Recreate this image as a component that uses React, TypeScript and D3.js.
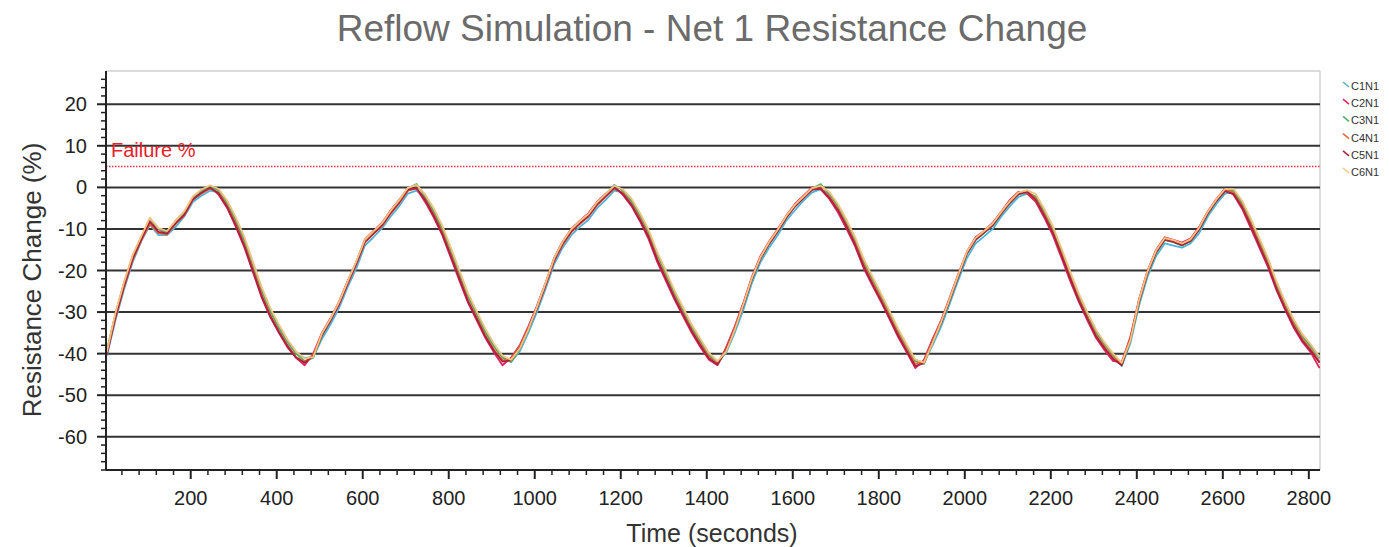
import React from "react";
import * as d3 from "d3";

// Sample times (seconds), every 20 s
const times: number[] = d3.range(5, 2826, 20);

const seriesNames = ["C1N1", "C2N1", "C3N1", "C4N1", "C5N1", "C6N1"];
const seriesColors = ["#4fb3d9", "#e0245a", "#4caf6a", "#e8623a", "#a8233e", "#f5c27e"];

const c1n1 = [
  -40.5, -32, -24.5, -18, -13, -9, -11.5, -11.5, -9.5, -7,
  -3.5, -2, -0.8, -1.2, -4.2, -8, -12.8, -18.5, -24.5, -29.5,
  -33.8, -37, -40, -41, -40.8, -36.5, -33, -29, -24, -19.5,
  -14, -12, -9.8, -7, -4.5, -1.5, -0.8, -2.3, -5.8, -10,
  -15, -20.5, -26, -30.2, -34.5, -38, -40.8, -42, -39.5, -35,
  -30, -24.5, -18.5, -14.5, -11.5, -9.5, -7.8, -5, -3, -0.8,
  -1.2, -3.2, -6.8, -10.6, -16, -20.5, -25.3, -29.5, -33.5, -37,
  -40.2, -42, -39.8, -35, -29.5, -23, -18, -14.5, -11.5, -8,
  -5.5, -3.2, -1.2, -0.5, -1.5, -4.3, -8.2, -12.5, -17.5, -21.8,
  -26, -30.2, -34.5, -38.2, -41.5, -42.2, -38, -33.5, -28, -22.3,
  -17, -13.5, -11.8, -10, -7, -4.5, -2.3, -1.5, -2.5, -5.8,
  -10, -15.2, -20.6, -26, -30.5, -34.7, -37.8, -40.3, -43, -37.5,
  -28.5, -21.5, -16.5, -13.5, -14, -14.5, -13.5, -11, -7, -4,
  -1.5, -1.2, -3.8, -8, -12.7, -17.5, -23.2, -28, -32.2, -35.8,
  -38.3, -41.2,
];
const c2n1 = [
  -39.5, -30.5, -23, -16.5, -12, -8.5, -10, -11.2, -8, -6,
  -2.5, -0.8, 0.3, -1.8, -5, -9.5, -14.5, -20.5, -26.5, -31.2,
  -35, -38.5, -41, -42.8, -40, -35, -31.5, -27.5, -22.5, -18,
  -12.5, -10.5, -8.5, -5.5, -3, -0.2, -0.3, -3.5, -7.2, -11.5,
  -17, -22.5, -27.8, -32, -36.2, -39.7, -42.8, -41, -38, -33.5,
  -28.5, -23, -17, -13, -10, -8, -6.2, -3.5, -1.5, 0.2,
  -1.8, -4.5, -8.2, -12.5, -18, -22.5, -27, -31, -35, -38.4,
  -41.5, -42.8, -38.5, -33.5, -27.8, -21.5, -16.5, -13, -10, -6.8,
  -4, -2, 0, -0.5, -2.8, -6, -10, -14.2, -19.5, -23.6,
  -27.5, -31.7, -36, -39.7, -43.5, -41.5, -36.5, -32, -26.5, -20.8,
  -15.5, -12, -10.5, -8.5, -5.8, -3, -1, -1.5, -3.5, -7.3,
  -11.6, -17, -22.5, -27.5, -32, -36.2, -39.2, -41.8, -42, -36,
  -27, -20, -15, -12, -12.6, -13.3, -12.3, -9.5, -5.8, -2.8,
  -0.3, -1.8, -5.2, -9.8, -14.5, -19.2, -24.8, -29.5, -33.8, -37.2,
  -39.8, -43.5,
];
const c3n1 = [
  -39.2, -30.5, -23, -16.8, -12.2, -7.5, -10, -10.8, -8.2, -6.2,
  -2.5, -1, 0.2, -0.8, -3.8, -8, -12.8, -18.8, -24.8, -29.8,
  -33.8, -37.2, -40, -41.8, -41, -35.8, -32.2, -27.8, -22.8, -18,
  -12.8, -10.8, -8.8, -5.8, -3.2, -0.2, 0.8, -2.2, -5.8, -10,
  -15.2, -20.8, -26.2, -30.5, -34.8, -38.3, -41, -42, -39, -34.2,
  -28.8, -23.2, -17.2, -13.2, -10.2, -8.2, -6.5, -3.8, -1.8, 0.6,
  -0.8, -3.3, -6.8, -10.8, -16.2, -20.8, -25.5, -29.6, -33.6, -37,
  -40.3, -42.5, -39.5, -34.2, -28.5, -22.2, -17.2, -13.7, -10.7, -7.3,
  -4.6, -2.6, -0.3, 0.8, -1.6, -4.5, -8.3, -12.6, -17.8, -22,
  -26.1, -30.3, -34.5, -38.3, -41.8, -42.5, -37.5, -32.8, -27.3, -21.5,
  -16, -12.7, -11, -9.2, -6.4, -3.8, -1.7, -1.2, -2.2, -5.8,
  -10, -15.3, -20.8, -26.1, -30.6, -34.8, -37.8, -40.4, -42.8, -37,
  -27.8, -20.8, -15.8, -12.7, -13.2, -14, -13, -10.2, -6.4, -3.4,
  -1, -0.8, -3.8, -8.1, -12.8, -17.6, -23.3, -28.1, -32.3, -35.8,
  -38.3, -41,
];
const c4n1 = [
  -39.8, -31.5, -24, -17.5, -12.8, -8.8, -11, -11.3, -8.8, -6.8,
  -3, -1.5, -0.3, -1.3, -4.5, -8.8, -13.8, -19.8, -25.8, -30.7,
  -34.6, -38, -40.8, -42, -40.3, -35.3, -31.8, -28.2, -23.3, -18.5,
  -13.3, -11.2, -9.3, -6.3, -3.8, -0.8, -0.3, -2.8, -6.5, -10.8,
  -16.2, -21.7, -27.2, -31.3, -35.6, -39, -41.6, -41.3, -38.2, -33.8,
  -29.2, -23.8, -17.8, -13.8, -10.8, -8.8, -7, -4.3, -2.3, -0.3,
  -1.3, -4, -7.6, -11.7, -17.2, -21.7, -26.3, -30.3, -34.3, -37.7,
  -40.8, -42.5, -38.8, -33.8, -28.1, -21.8, -16.8, -13.3, -10.3, -7,
  -4.3, -2.3, -0.5, -0.2, -2.2, -5.2, -9.1, -13.4, -18.6, -22.8,
  -26.8, -31, -35.2, -39, -42.5, -41.8, -36.8, -32.3, -26.8, -21,
  -15.6, -12.3, -10.6, -8.8, -6, -3.4, -1.3, -0.8, -2.8, -6.5,
  -10.8, -16.1, -21.6, -26.8, -31.3, -35.5, -38.4, -41, -42.3, -36.2,
  -27.2, -20.2, -15.2, -12.2, -12.8, -13.6, -12.6, -9.8, -6, -3,
  -0.5, -1.3, -4.5, -8.8, -13.6, -18.4, -24.1, -28.8, -33, -36.5,
  -39, -42,
];
const c5n1 = [
  -40.2, -31.2, -23.8, -17.2, -12.6, -8.2, -10.7, -11.1, -8.6, -6.6,
  -2.9, -1.3, -0.1, -1.5, -4.8, -9.2, -14.2, -20.2, -26.2, -31,
  -34.8, -38.2, -41, -42.2, -40.6, -35.6, -32.1, -28.1, -23.1, -18.4,
  -13.1, -11.1, -9.1, -6.1, -3.6, -0.6, -0.2, -3, -6.8, -11.2,
  -16.5, -22, -27.5, -31.6, -35.9, -39.3, -41.9, -41.6, -38.6, -34.1,
  -29.1, -23.6, -17.6, -13.6, -10.6, -8.6, -6.9, -4.1, -2.1, -0.1,
  -1.6, -4.2, -7.9, -12, -17.5, -22, -26.6, -30.6, -34.6, -38,
  -41.2, -42.6, -39.1, -34.1, -28.4, -22.1, -17.1, -13.6, -10.6, -7.3,
  -4.6, -2.6, -0.6, -0.3, -2.5, -5.5, -9.4, -13.8, -19, -23.2,
  -27.2, -31.4, -35.6, -39.4, -43, -42.3, -37.1, -32.6, -27.1, -21.4,
  -15.9, -12.6, -10.9, -9.1, -6.3, -3.7, -1.6, -1.1, -3, -6.8,
  -11, -16.4, -21.9, -27.2, -31.6, -35.8, -38.7, -41.3, -42.8, -36.6,
  -27.6, -20.6, -15.6, -12.6, -13.1, -13.9, -12.9, -10.1, -6.3, -3.3,
  -0.9, -1.6, -4.8, -9.2, -14, -18.8, -24.5, -29.2, -33.4, -36.9,
  -39.4, -42.2,
];
const c6n1 = [
  -39.6, -30.2, -22.8, -16.3, -11.8, -7.3, -9.8, -10.5, -8, -5.8,
  -2.2, -0.5, 0.5, -0.4, -3.2, -7.2, -12, -18, -24, -29,
  -33, -36.6, -39.5, -41.2, -40.8, -35.2, -31.6, -27.6, -22.6, -17.8,
  -12.6, -10.6, -8.6, -5.6, -3.1, -0.1, 0.6, -1.7, -5, -9.2,
  -14.5, -20, -25.5, -29.8, -34, -37.6, -40.5, -41.5, -38.8, -34.2,
  -28.8, -23.1, -17.1, -13.1, -10.1, -8.1, -6.4, -3.6, -1.6, 0.4,
  -0.5, -2.7, -6.2, -10.2, -15.6, -20.1, -24.8, -28.9, -33, -36.4,
  -39.8, -41.8, -39.5, -34.3, -28.2, -21.8, -16.8, -13.2, -10.2, -6.9,
  -4.2, -2.2, -0.2, 0.4, -1.1, -4, -7.8, -12, -17.2, -21.4,
  -25.5, -29.7, -34, -37.8, -41.4, -42.2, -37.4, -32.4, -26.8, -21,
  -15.5, -12.2, -10.5, -8.7, -5.9, -3.3, -1.2, -0.7, -1.6, -5.2,
  -9.4, -14.7, -20.2, -25.5, -30, -34.2, -37.3, -40, -42.2, -36.8,
  -27.2, -20.2, -15.2, -12.2, -12.7, -13.5, -12.5, -9.7, -5.9, -2.9,
  -0.4, -0.4, -3.2, -7.5, -12.2, -17, -22.7, -27.5, -31.8, -35.3,
  -37.8, -40.8,
];
const seriesValues = [c1n1, c2n1, c3n1, c4n1, c5n1, c6n1];

const yMajorTicks = [20, 10, 0, -10, -20, -30, -40, -50, -60];
const xMajorTicks = [200, 400, 600, 800, 1000, 1200, 1400, 1600, 1800, 2000, 2200, 2400, 2600, 2800];
const failureLevel = 5;

const W = 1389;
const H = 547;
const M = { left: 106, right: 1320, top: 71, bottom: 470 };

export default function App() {
  const x = d3.scaleLinear().domain([3, 2826]).range([M.left, M.right]);
  const y = d3.scaleLinear().domain([-68, 28]).range([M.bottom, M.top]);
  const line = d3
    .line<number>()
    .x((_, i) => x(times[i]))
    .y((d) => y(d));

  const yMinor = d3.range(-68, 28, 2).filter((v) => v % 10 !== 0);
  const xMinor = d3.range(40, 2826, 40).filter((v) => v % 200 !== 0);
  const font = "'Liberation Sans', Arial, sans-serif";

  return (
    <svg width={W} height={H} style={{ position: "absolute", left: 0, top: 0 }} fontFamily={font}>
      <rect x={0} y={0} width={W} height={H} fill="#fff" />
      <text x={712} y={41} textAnchor="middle" fontSize={37} fill="#6b6b6b">
        Reflow Simulation - Net 1 Resistance Change
      </text>

      {/* frame */}
      <line x1={M.left} x2={M.right} y1={M.top} y2={M.top} stroke="#d0d0d0" strokeWidth={1.5} />
      <line x1={M.right} x2={M.right} y1={M.top} y2={M.bottom} stroke="#d0d0d0" strokeWidth={1.5} />

      {/* grid */}
      {yMajorTicks.map((v) => (
        <line key={"g" + v} x1={M.left} x2={M.right} y1={y(v)} y2={y(v)} stroke="#333" strokeWidth={2} />
      ))}

      {/* failure line */}
      <line
        x1={M.left}
        x2={M.right}
        y1={y(failureLevel)}
        y2={y(failureLevel)}
        stroke="#e8303a"
        strokeWidth={1.5}
        strokeDasharray="1.5,1.5"
      />
      <text x={111} y={157} fontSize={20} fill="#e8202a">
        Failure %
      </text>

      {/* series */}
      <g clipPath="url(#clip)">
        {seriesValues.map((vals, i) => (
          <path key={seriesNames[i]} d={line(vals) || ""} fill="none" stroke={seriesColors[i]} strokeWidth={1.8} strokeLinejoin="round" />
        ))}
      </g>
      <defs>
        <clipPath id="clip">
          <rect x={M.left} y={M.top} width={M.right - M.left} height={M.bottom - M.top} />
        </clipPath>
      </defs>

      {/* y axis */}
      <line x1={M.left} x2={M.left} y1={M.top} y2={M.bottom} stroke="#222" strokeWidth={2} />
      {yMajorTicks.map((v) => (
        <g key={"yt" + v}>
          <line x1={M.left - 9} x2={M.left} y1={y(v)} y2={y(v)} stroke="#222" strokeWidth={2} />
          <text x={87} y={y(v) + 7} textAnchor="end" fontSize={20} fill="#222">
            {v}
          </text>
        </g>
      ))}
      {yMinor.map((v) => (
        <line key={"ym" + v} x1={M.left - 5} x2={M.left} y1={y(v)} y2={y(v)} stroke="#222" strokeWidth={1.5} />
      ))}

      {/* x axis */}
      <line x1={M.left} x2={M.right} y1={M.bottom} y2={M.bottom} stroke="#222" strokeWidth={2} />
      {xMajorTicks.map((v) => (
        <g key={"xt" + v}>
          <line x1={x(v)} x2={x(v)} y1={M.bottom} y2={M.bottom + 9} stroke="#222" strokeWidth={2} />
          <text x={x(v)} y={505} textAnchor="middle" fontSize={20} fill="#222">
            {v}
          </text>
        </g>
      ))}
      {xMinor.map((v) => (
        <line key={"xm" + v} x1={x(v)} x2={x(v)} y1={M.bottom} y2={M.bottom + 5} stroke="#222" strokeWidth={1.5} />
      ))}

      {/* axis titles */}
      <text x={712} y={542} textAnchor="middle" fontSize={25} fill="#333">
        Time (seconds)
      </text>
      <text transform="translate(41,280) rotate(-90)" textAnchor="middle" fontSize={26} fill="#333">
        Resistance Change (%)
      </text>

      {/* legend */}
      {seriesNames.map((n, i) => {
        const ly = 86 + i * 17.2;
        return (
          <g key={"lg" + n}>
            <line x1={1343} y1={ly - 4} x2={1349} y2={ly + 1} stroke={seriesColors[i]} strokeWidth={1.5} />
            <text x={1351} y={ly + 4} fontSize={11} fill="#333">
              {n}
            </text>
          </g>
        );
      })}
    </svg>
  );
}
